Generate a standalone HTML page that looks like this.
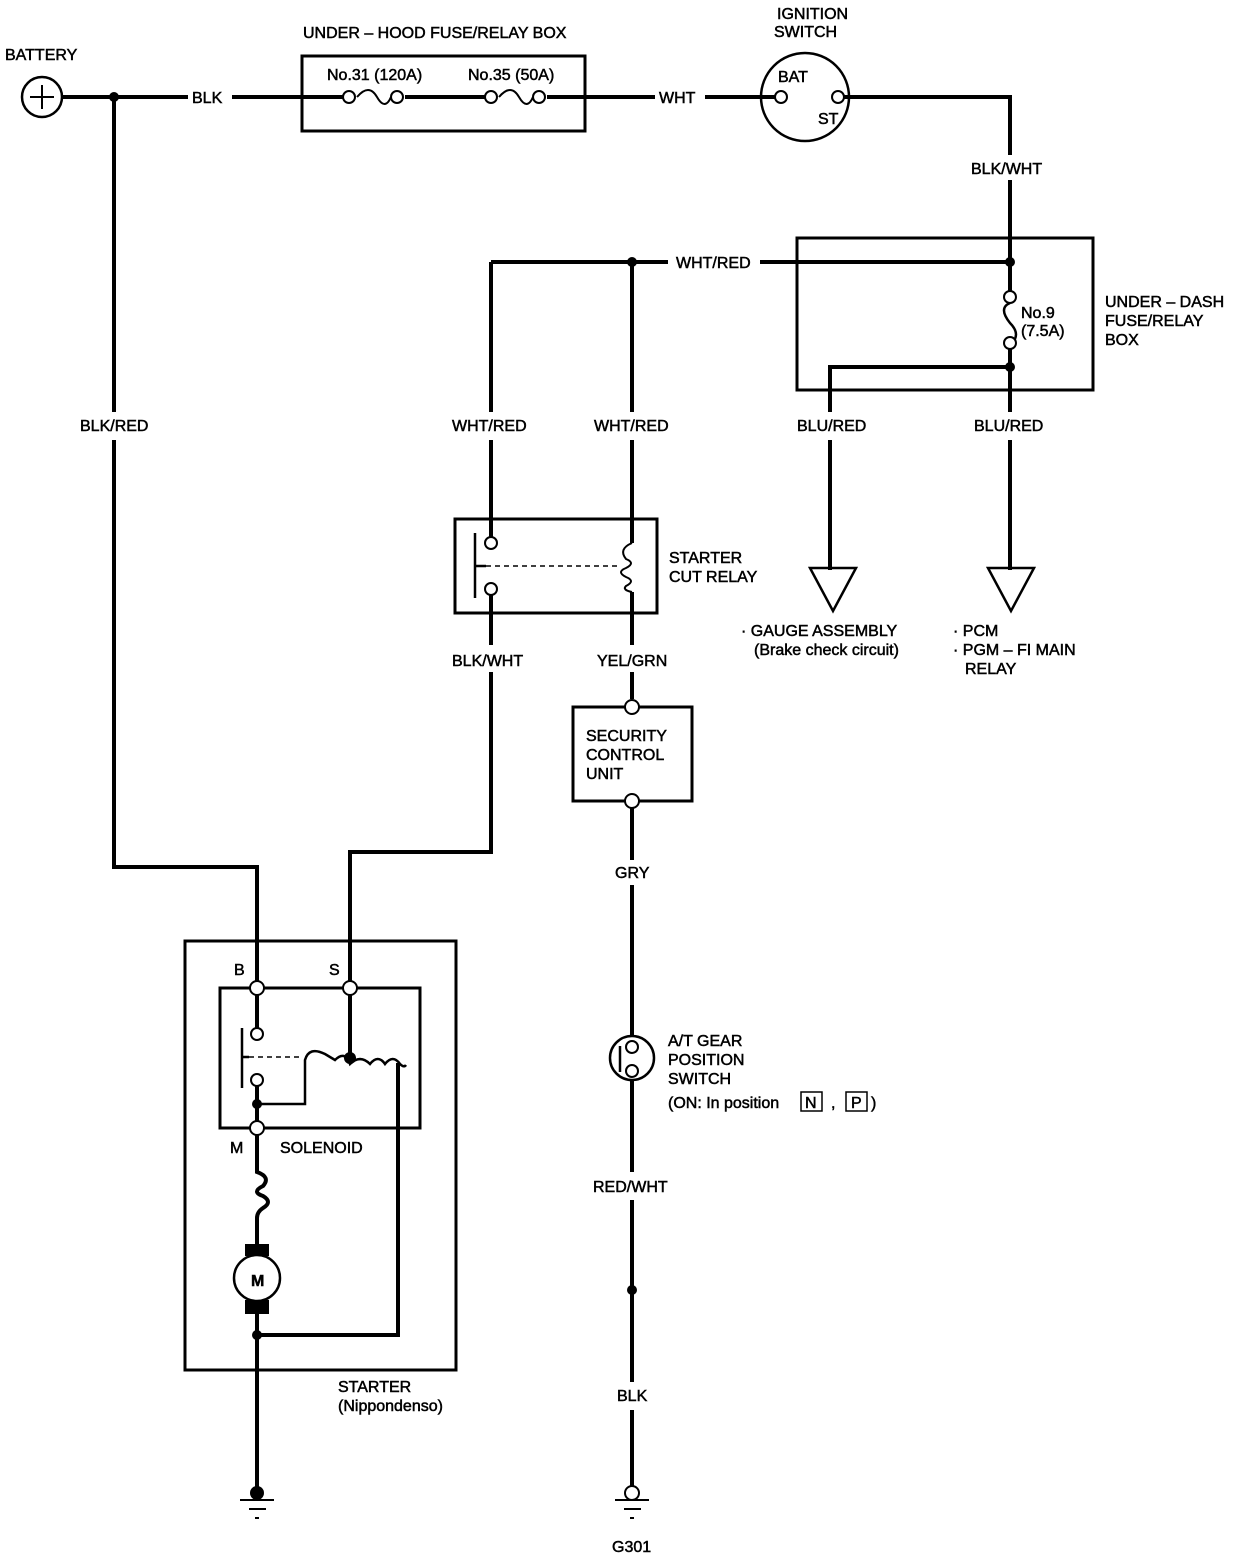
<!DOCTYPE html>
<html><head><meta charset="utf-8"><style>
html,body{margin:0;padding:0;background:#fff}
svg{display:block}
text{font-family:"Liberation Sans",sans-serif;font-size:16px;fill:#000;stroke:#000;stroke-width:0.5}
</style></head><body>
<svg width="1248" height="1560" viewBox="0 0 1248 1560" xmlns="http://www.w3.org/2000/svg">
<g fill="none" stroke="#000" stroke-width="4">
<circle cx="42" cy="97" r="20" stroke-width="2.5"/>
<path d="M30 97h24M42 85v24" stroke-width="2"/>
<path d="M62 97H188M232 97H349"/>
<rect x="302" y="56" width="283" height="75" stroke-width="3"/>
<path d="M405 97H485M547 97H585M585 97H655M705 97H776"/>
<path d="M357 97 q12 -14 20 0 q8 14 14 0 M499 97 q12 -14 20 0 q8 14 14 0" stroke-width="2"/>
<circle cx="805" cy="97" r="44" stroke-width="2.5"/>
<path d="M844 97H1010V155M1010 180V262"/>
<rect x="797" y="238" width="296" height="152" stroke-width="3"/>
<path d="M491 262H668M760 262H1010V291M1010 349V367H830V412M830 440V570M1010 367V412M1010 440V570"/>
<path d="M1010 303 q-12 5 0 20 q12 12 0 22" stroke-width="2.5"/>
<path d="M810 568H856L833 611Z M988 568H1034L1011 611Z" stroke-width="2.5"/>
<path d="M491 262V412M491 440V537M632 262V412M632 440V543M491 595V645M491 672V852H350V982M632 592V645M632 672V699"/>
<rect x="455" y="519" width="202" height="94" stroke-width="3"/>
<path d="M475 533V598M475 566H486" stroke-width="2.5"/>
<path d="M486 566H620" stroke-width="1.5" stroke-dasharray="5 4"/>
<path d="M632 543 q-14 6 -6 16 q10 4 0 9 q-10 4 0 9 q10 4 0 9 q-4 4 6 6" stroke-width="2"/>
<rect x="573" y="707" width="119" height="94" stroke-width="3"/>
<path d="M632 807V860M632 885V1036M632 1080V1172M632 1200V1382M632 1410V1486"/>
<circle cx="632" cy="1058" r="22" stroke-width="2.5"/>
<path d="M620 1046V1072" stroke-width="2.5"/>
<path d="M114 97V412M114 440V867H257V982"/>
<rect x="185" y="941" width="271" height="429" stroke-width="3"/>
<rect x="220" y="988" width="200" height="140" stroke-width="3"/>
<path d="M257 994V1028M257 1086V1122M350 994V1058"/>
<path d="M242 1028V1088M242 1057H249" stroke-width="2.5"/>
<path d="M249 1057H303" stroke-width="1.5" stroke-dasharray="5 4"/>
<path d="M257 1104H305V1060 q4 -14 20 -6 q10 6 10 6 q10 -10 15 4 q10 -10 20 0 q8 -10 15 0 q8 -10 15 0 q4 4 6 1" stroke-width="2.5"/>
<path d="M398 1063V1335H257" stroke-width="4"/>
<path d="M257 1134V1172 q14 5 6 14 q-12 6 0 10 q10 6 0 12 q-6 4 -6 10V1245M257 1311V1493"/>
<circle cx="257" cy="1278" r="23" stroke-width="2.5"/>
</g>
<rect x="245" y="1244" width="24" height="12" fill="#000"/>
<rect x="245" y="1300" width="24" height="14" fill="#000"/>
<g fill="#fff" stroke="#000" stroke-width="2">
<circle cx="349" cy="97" r="6"/><circle cx="397" cy="97" r="6"/>
<circle cx="491" cy="97" r="6"/><circle cx="539" cy="97" r="6"/>
<circle cx="781" cy="97" r="6"/><circle cx="838" cy="97" r="6"/>
<circle cx="1010" cy="297" r="6"/><circle cx="1010" cy="343" r="6"/>
<circle cx="491" cy="543" r="6"/><circle cx="491" cy="589" r="6"/>
<circle cx="632" cy="707" r="7"/><circle cx="632" cy="801" r="7"/>
<circle cx="632" cy="1047" r="6"/><circle cx="632" cy="1071" r="6"/>
<circle cx="257" cy="988" r="7"/><circle cx="350" cy="988" r="7"/><circle cx="257" cy="1128" r="7"/>
<circle cx="257" cy="1034" r="6"/><circle cx="257" cy="1080" r="6"/>
<circle cx="632" cy="1493" r="7"/>
</g>
<g fill="#000">
<circle cx="114" cy="97" r="5"/><circle cx="632" cy="262" r="5"/><circle cx="1010" cy="262" r="5"/>
<circle cx="1010" cy="367" r="5"/><circle cx="632" cy="1290" r="5"/>
<circle cx="257" cy="1104" r="5"/><circle cx="350" cy="1058" r="6"/><circle cx="257" cy="1335" r="5"/>
<circle cx="257" cy="1493" r="7"/>
</g>
<g stroke="#000" stroke-width="2">
<path d="M240 1500H274M249 1509H266M255 1518H259"/>
<path d="M615 1500H649M624 1509H641M630 1518H634"/>
</g>
<g>
<text x="5" y="60">BATTERY</text>
<text x="192" y="103">BLK</text>
<text x="303" y="38">UNDER – HOOD FUSE/RELAY BOX</text>
<text x="327" y="80">No.31 (120A)</text>
<text x="468" y="80">No.35 (50A)</text>
<text x="659" y="103">WHT</text>
<text x="777" y="19">IGNITION</text>
<text x="774" y="37">SWITCH</text>
<text x="778" y="82">BAT</text>
<text x="818" y="124">ST</text>
<text x="971" y="174">BLK/WHT</text>
<text x="676" y="268">WHT/RED</text>
<text x="1021" y="318">No.9</text>
<text x="1021" y="336">(7.5A)</text>
<text x="1105" y="307">UNDER – DASH</text>
<text x="1105" y="326">FUSE/RELAY</text>
<text x="1105" y="345">BOX</text>
<text x="80" y="431">BLK/RED</text>
<text x="452" y="431">WHT/RED</text>
<text x="594" y="431">WHT/RED</text>
<text x="797" y="431">BLU/RED</text>
<text x="974" y="431">BLU/RED</text>
<text x="669" y="563">STARTER</text>
<text x="669" y="582">CUT RELAY</text>
<text x="741" y="636">· GAUGE ASSEMBLY</text>
<text x="754" y="655">(Brake check circuit)</text>
<text x="953" y="636">· PCM</text>
<text x="953" y="655">· PGM – FI MAIN</text>
<text x="965" y="674">RELAY</text>
<text x="452" y="666">BLK/WHT</text>
<text x="597" y="666">YEL/GRN</text>
<text x="586" y="741">SECURITY</text>
<text x="586" y="760">CONTROL</text>
<text x="586" y="779">UNIT</text>
<text x="615" y="878">GRY</text>
<text x="668" y="1046">A/T GEAR</text>
<text x="668" y="1065">POSITION</text>
<text x="668" y="1084">SWITCH</text>
<text x="668" y="1108">(ON: In position</text>
<rect x="801" y="1092" width="21" height="19" fill="none" stroke="#000" stroke-width="1.5"/>
<text x="805" y="1108">N</text>
<text x="831" y="1108">,</text>
<rect x="846" y="1092" width="21" height="19" fill="none" stroke="#000" stroke-width="1.5"/>
<text x="851" y="1108">P</text>
<text x="871" y="1108">)</text>
<text x="593" y="1192">RED/WHT</text>
<text x="617" y="1401">BLK</text>
<text x="612" y="1552">G301</text>
<text x="234" y="975">B</text>
<text x="329" y="975">S</text>
<text x="230" y="1153">M</text>
<text x="280" y="1153">SOLENOID</text>
<text x="251" y="1286" font-weight="bold">M</text>
<text x="338" y="1392">STARTER</text>
<text x="338" y="1411">(Nippondenso)</text>
</g>
</svg>
</body></html>
